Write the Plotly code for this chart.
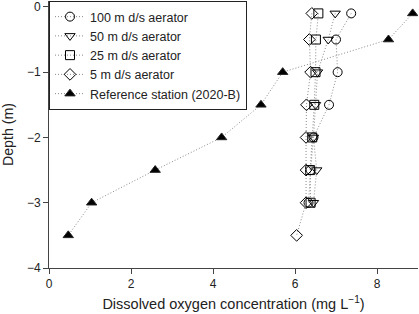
import plotly.graph_objects as go

depth_all = [-0.1, -0.5, -1.0, -1.5, -2.0, -2.5, -3.0, -3.5]
depth_7 = [-0.1, -0.5, -1.0, -1.5, -2.0, -2.5, -3.0]

do_100m = [7.37, 7.00, 7.04, 6.83, 6.45, 6.38, 6.33]
do_50m = [6.98, 6.81, 6.55, 6.50, 6.45, 6.53, 6.45]
do_25m = [6.57, 6.51, 6.50, 6.47, 6.42, 6.37, 6.38]
do_5m = [6.41, 6.35, 6.38, 6.28, 6.27, 6.27, 6.27, 6.04]
do_ref = [8.87, 8.28, 5.70, 5.17, 4.21, 2.59, 1.04, 0.47]

x_ticks = [0, 2, 4, 6, 8]
y_ticks = [0, -1, -2, -3, -4]
y_tick_text = ["0", "\u22121", "\u22122", "\u22123", "\u22124"]

series = [
    ("100 m d/s aerator", do_100m, depth_7, "circle-open", "black"),
    ("50 m d/s aerator", do_50m, depth_7, "triangle-down-open", "black"),
    ("25 m d/s aerator", do_25m, depth_7, "square-open", "black"),
    ("5 m d/s aerator", do_5m, depth_all, "diamond-open", "black"),
    ("Reference station (2020-B)", do_ref, depth_all, "triangle-up", "black"),
]

fig = go.Figure()
for name, xs, ys, sym, col in series:
    fig.add_trace(go.Scatter(
        x=xs, y=ys, name=name, mode="lines+markers",
        line=dict(color="#8a8a8a", width=1, dash="1px,2px"),
        marker=dict(symbol=sym, size=9, color=col,
                    line=dict(color="#222222", width=1)),
    ))

font = dict(family="Liberation Sans, Arial, sans-serif", size=12, color="#222222")

fig.update_layout(
    width=419, height=314,
    margin=dict(l=49, r=1, t=1, b=46, autoexpand=False),
    paper_bgcolor="white", plot_bgcolor="white",
    font=font,
    showlegend=True,
    legend=dict(
        x=0, y=1, xanchor="left", yanchor="top",
        bgcolor="white", bordercolor="#222222", borderwidth=1,
        font=dict(family="Liberation Sans, Arial, sans-serif", size=12.5, color="#222222"),
        tracegroupgap=0,
    ),
    xaxis=dict(
        range=[0, 9], tickvals=x_ticks, ticks="outside", ticklen=5,
        tickcolor="#444444", showline=True, linecolor="#444444", linewidth=1,
        showgrid=False, zeroline=False,
        title=dict(text="Dissolved oxygen concentration (mg L<sup>\u22121</sup>)",
                   font=dict(size=14.5), standoff=8),
        tickfont=dict(size=12),
    ),
    yaxis=dict(
        range=[-4, 0.09], tickvals=y_ticks, ticktext=y_tick_text,
        ticks="outside", ticklen=5,
        tickcolor="#444444", showline=True, linecolor="#444444", linewidth=1,
        showgrid=False, zeroline=False,
        title=dict(text="Depth (m)", font=dict(size=14.2), standoff=9),
        tickfont=dict(size=12),
    ),
)

fig.write_html("out.html", config={"displayModeBar": False},
               post_script="document.body.style.margin='0px';")
